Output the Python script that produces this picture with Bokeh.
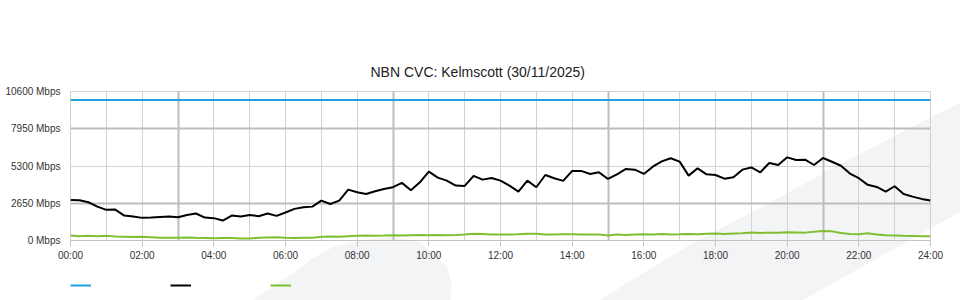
from urllib.parse import quote
from bokeh.plotting import figure
from bokeh.layouts import column
from bokeh.models import (Range1d, FixedTicker, PrintfTickFormatter, Grid, Legend,
                          LegendItem)
from bokeh.core.properties import value
from bokeh.embed import file_html
from bokeh.resources import INLINE

# ---------------- data (15-minute samples, 00:00 .. 24:00) ----------------
title_text = "NBN CVC: Kelmscott (30/11/2025)"
capacity_mbps = 10000
black_mbps = [
    2890, 2860, 2720, 2410, 2180, 2200, 1775, 1700, 1610, 1630, 1680, 1700,
    1660, 1820, 1920, 1630, 1590, 1420, 1775, 1700, 1820, 1730, 1920, 1750,
    1990, 2250, 2360, 2410, 2840, 2600, 2840, 3620, 3430, 3310, 3500, 3670,
    3790, 4100, 3570, 4140, 4900, 4470, 4260, 3905, 3880, 4600, 4330, 4450,
    4260, 3905, 3480, 4260, 3790, 4660, 4425, 4240, 4950, 4950, 4735, 4850,
    4380, 4710, 5090, 5040, 4735, 5250, 5630, 5850, 5610, 4615, 5135, 4710,
    4660, 4400, 4500, 5040, 5200, 4850, 5510, 5370, 5915, 5730, 5750, 5370,
    5870, 5600, 5320, 4760, 4430, 3960, 3810, 3480, 3860, 3310, 3120, 2960,
    2840,
]
green_mbps = [
    350, 300, 330, 300, 340, 280, 270, 250, 260, 230, 200, 200,
    200, 210, 190, 180, 160, 170, 170, 150, 140, 200, 220, 230,
    200, 180, 190, 190, 260, 280, 270, 300, 330, 350, 340, 350,
    380, 350, 380, 400, 380, 400, 380, 390, 420, 480, 460, 420,
    420, 430, 450, 480, 480, 420, 430, 440, 440, 420, 430, 420,
    360, 430, 390, 430, 440, 430, 470, 420, 440, 470, 450, 480,
    500, 470, 500, 520, 570, 540, 560, 560, 580, 570, 560, 630,
    680, 650, 540, 470, 450, 520, 430, 380, 360, 330, 320, 310,
    310,
]
sample_step_h = 0.25
hours = [i * sample_step_h for i in range(len(black_mbps))]
x_tick_hours = [0, 2, 4, 6, 8, 10, 12, 14, 16, 18, 20, 22, 24]
x_tick_labels = ["00:00", "02:00", "04:00", "06:00", "08:00", "10:00", "12:00",
                 "14:00", "16:00", "18:00", "20:00", "22:00", "24:00"]
y_ticks = [0, 2650, 5300, 7950, 10600]

BLUE = "#1ea3e0"
BLACK = "#000000"
GREEN = "#7fc031"
FONT = "Liberation Sans"

# decorative background watermark, drawn as a CSS background of the page element
wm_svg = ('<svg xmlns="http://www.w3.org/2000/svg" width="960" height="300">'
          '<path fill="#f3f4f6" d="M253,300 L287,277 L313,258 L333,247 L362,240 '
          'L393,237 L420,242 L447,267 L452,285 L450,300 Z"/>'
          '<path fill="#f3f4f6" d="M600,300 L645,272 L693,243 L760,208 L840,164 '
          'L920,123 L960,103 L960,212 L910,240 L803,300 Z"/></svg>')

p = figure(width=960, height=270, output_backend="svg", toolbar_location=None,
           x_range=Range1d(0, 24), y_range=Range1d(0, 10600),
           min_border_left=70, min_border_right=30, min_border_top=91,
           min_border_bottom=30,
           background_fill_color=None, border_fill_color=None)

p.title.text = title_text
p.title.text_font = FONT
p.title.text_font_size = "14px"
p.title.text_font_style = "normal"
p.title.text_color = "#222222"
p.title.align = "left"
p.title.offset = 300
p.title.standoff = 24

p.outline_line_color = "#d0d0d0"

# axes
p.xaxis.ticker = FixedTicker(ticks=x_tick_hours)
p.xaxis.major_label_overrides = dict(zip(x_tick_hours, x_tick_labels))
p.xaxis.axis_line_color = "#c4c4c4"
p.xaxis.major_tick_line_color = "#c4c4c4"
p.xaxis.major_tick_out = 6
p.xaxis.major_tick_in = 0
p.xaxis.minor_tick_line_color = None
p.xaxis.major_label_standoff = 3
p.yaxis.ticker = FixedTicker(ticks=y_ticks)
p.yaxis.formatter = PrintfTickFormatter(format="%d Mbps")
p.yaxis.axis_line_color = None
p.yaxis.major_tick_line_color = None
p.yaxis.minor_tick_line_color = None
p.yaxis.major_tick_out = 0
p.yaxis.major_tick_in = 0
p.yaxis.major_label_standoff = 10
for ax in (p.xaxis, p.yaxis):
    ax.major_label_text_font = FONT
    ax.major_label_text_font_size = "10px"
    ax.major_label_text_color = "#333333"

# grids
p.xgrid.ticker = FixedTicker(ticks=list(range(25)))
p.xgrid.grid_line_color = "#d2d2d2"
p.ygrid.ticker = FixedTicker(ticks=y_ticks)
p.ygrid.grid_line_color = "#d2d2d2"
p.add_layout(Grid(dimension=0, ticker=FixedTicker(ticks=[3, 9, 15, 21]),
                  grid_line_color="#bdbdbd", grid_line_width=2))
p.add_layout(Grid(dimension=1, ticker=FixedTicker(ticks=[2650, 7950]),
                  grid_line_color="#bdbdbd", grid_line_width=2))

# series
p.line([hours[0], hours[-1]], [capacity_mbps, capacity_mbps],
       line_color=BLUE, line_width=2)
p.line(hours, black_mbps, line_color=BLACK, line_width=2)
p.line(hours, green_mbps, line_color=GREEN, line_width=2)

# legend strip below the chart (label-less swatches, as in the original)
q = figure(width=960, height=30, output_backend="svg", toolbar_location=None,
           x_range=Range1d(0, 24), y_range=Range1d(0, 10600),
           x_axis_location=None, y_axis_location=None,
           min_border_left=70, min_border_right=30, min_border_top=0,
           min_border_bottom=0,
           background_fill_color=None, border_fill_color=None)
q.outline_line_color = None
q.grid.visible = False
lb = q.line([hours[0], hours[-1]], [capacity_mbps, capacity_mbps],
            line_color=BLUE, line_width=2, visible=False)
lk = q.line(hours, black_mbps, line_color=BLACK, line_width=2, visible=False)
lg = q.line(hours, green_mbps, line_color=GREEN, line_width=2, visible=False)
legend = Legend(items=[LegendItem(label=value(" "), renderers=[lb]),
                       LegendItem(label=value(" "), renderers=[lk]),
                       LegendItem(label=value(" "), renderers=[lg])],
                orientation="horizontal", location="top_left",
                glyph_width=21, glyph_height=30, label_height=30,
                label_standoff=5, label_width=74,
                spacing=0, padding=0, margin=0, border_line_color=None,
                background_fill_alpha=0, inactive_fill_alpha=0,
                label_text_font_size="10px")
q.add_layout(legend)

page = column(p, q, spacing=0)
page.styles = {"background-image": "url(\"data:image/svg+xml;utf8," + quote(wm_svg) + "\")",
               "background-repeat": "no-repeat", "background-color": "#ffffff"}

open("out.html", "w").write(file_html(page, INLINE))
